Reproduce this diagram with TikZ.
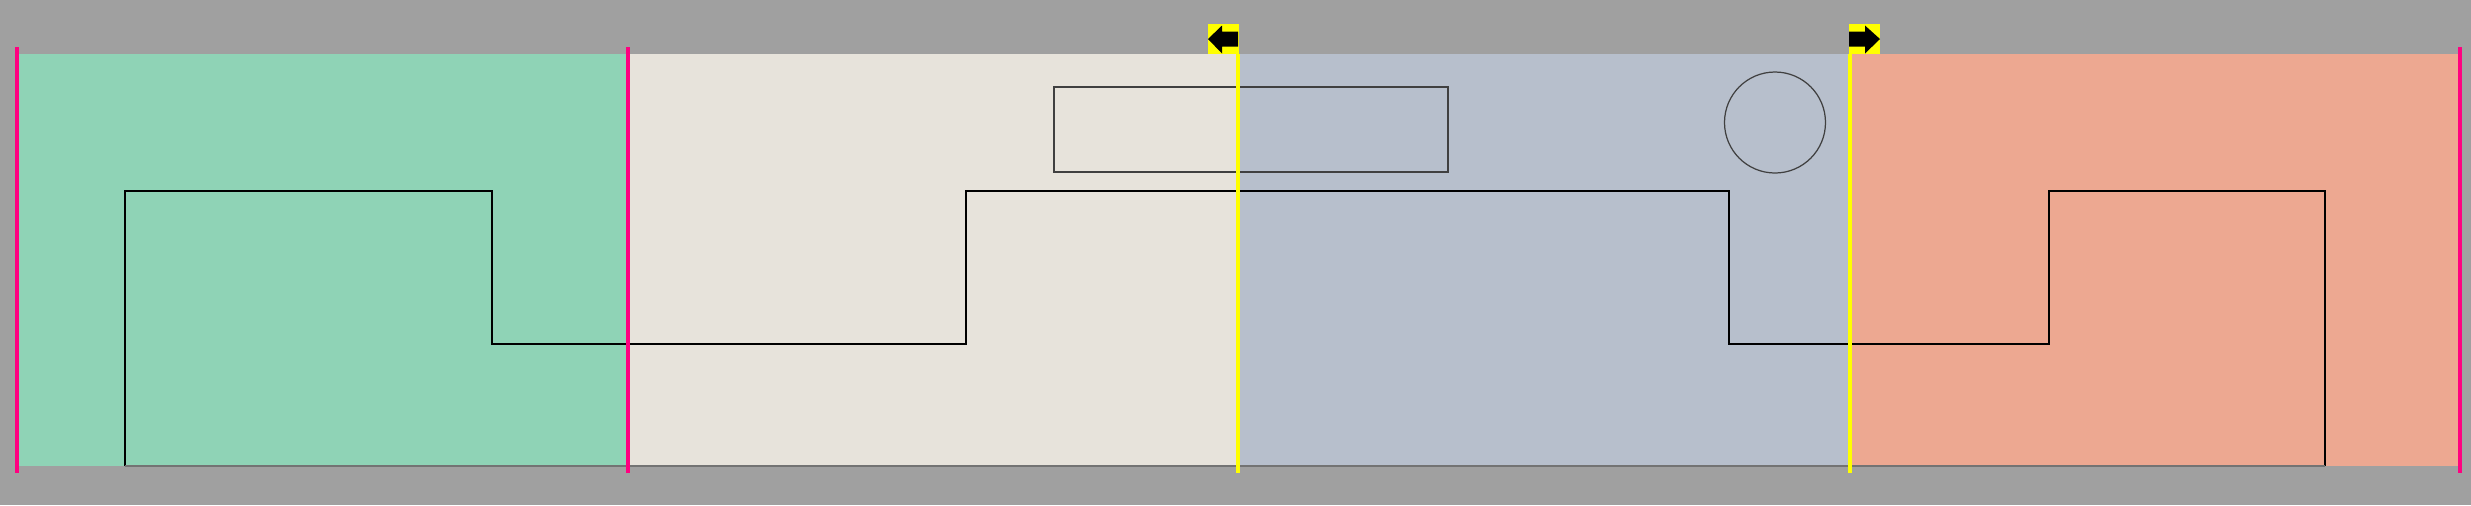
\documentclass[tikz,border=0pt]{standalone}
\usepackage{xcolor}
\usepackage{tikz}
\usetikzlibrary{positioning}

\definecolor{bggrey}{RGB}{160,160,160}
\definecolor{zonegreen}{RGB}{143,211,182}
\definecolor{zonebeige}{RGB}{231,227,219}
\definecolor{zoneblue}{RGB}{183,191,204}
\definecolor{zonesalmon}{RGB}{237,168,145}
\definecolor{cutmagenta}{RGB}{255,0,128}
\definecolor{markyellow}{RGB}{255,255,0}

\begin{document}
\begin{tikzpicture}[x=0.01cm, y=-0.01cm,
		cutline/.style={cutmagenta, line width=0.9pt},
		splitline/.style={markyellow, line width=0.9pt},
		outline/.style={black, line width=0.45pt, line join=miter},
		figline/.style={black!75, line width=0.35pt}]
			\fill[bggrey] (0,0) rectangle (2471,505);
			\useasboundingbox (0,0) rectangle (2471,505);

			% zones
			\fill[zonegreen]  (17,54)   rectangle (628,466);
			\fill[zonebeige]  (628,54)  rectangle (1239,466);
			\fill[zoneblue]   (1239,54) rectangle (1849,466);
			\fill[zonesalmon] (1849,54) rectangle (2460,466);

			% outline
			\draw[outline] (125,466) -- (125,191) -- (492,191) -- (492,344) -- (966,344) -- (966,191)
				-- (1729,191) -- (1729,344) -- (2049,344) -- (2049,191) -- (2325,191) -- (2325,466);
			\draw[black!55, line width=0.45pt] (2325,466) -- (125,466);

			\draw[figline] (1054,87) rectangle (1448,172);
			\draw[figline] (1775,122.5) circle [radius=50.5];

			% cuts
			\draw[cutline] (17,47) -- (17,473);
			\draw[cutline] (628,47) -- (628,473);
			\draw[cutline] (2460,47) -- (2460,473);
			\draw[splitline] (1238,54) -- (1238,473);
			\draw[splitline] (1850,54) -- (1850,473);

			% markers
			\fill[markyellow] (1208,24) rectangle (1239,54);
			\fill[black] (1208,39) -- (1222,25.5) -- (1222,31.5) -- (1238,31.5) -- (1238,46.5) -- (1222,46.5) -- (1222,53.5) -- cycle;
			\fill[markyellow] (1849,24) rectangle (1880,54);
			\fill[black] (1880,39) -- (1865,25.5) -- (1865,31.5) -- (1849,31.5) -- (1849,46.5) -- (1865,46.5) -- (1865,53.5) -- cycle;
		\end{tikzpicture}
\end{document}
